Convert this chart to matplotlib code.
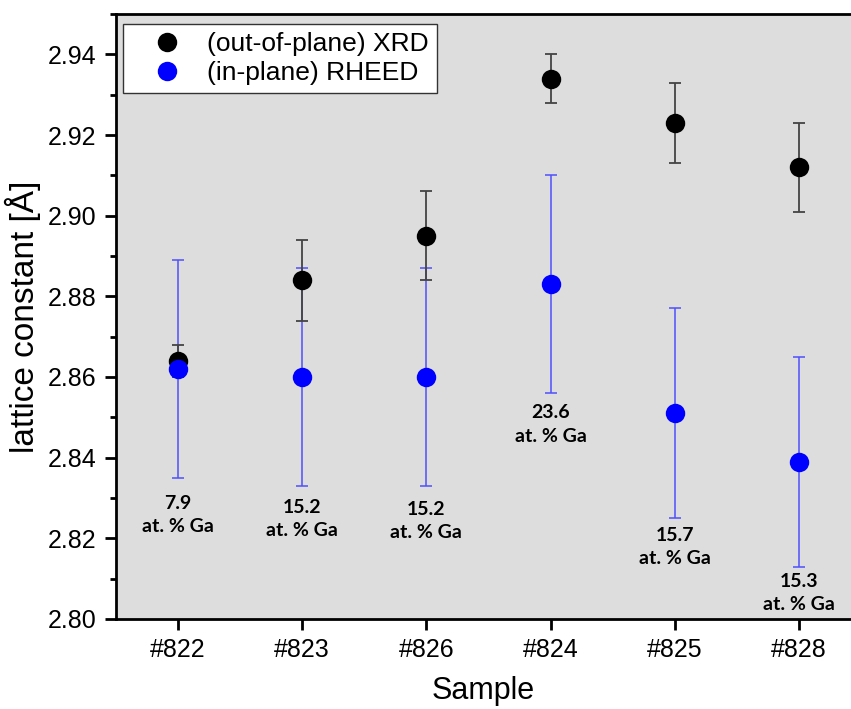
import numpy as np
import matplotlib.pyplot as plt

# ----------------------------
# data
# ----------------------------
samples = ["#822", "#823", "#826", "#824", "#825", "#828"]
xrd = [2.864, 2.884, 2.895, 2.934, 2.923, 2.912]
xrd_err = [0.004, 0.010, 0.011, 0.006, 0.010, 0.011]
rheed = [2.862, 2.860, 2.860, 2.883, 2.851, 2.839]
rheed_err = [0.027, 0.027, 0.027, 0.027, 0.026, 0.026]
ga_content = ["7.9", "15.2", "15.2", "23.6", "15.7", "15.3"]
label_y = [2.8257, 2.8248, 2.8243, 2.8482, 2.8178, 2.8064]

plt.rcParams["font.family"] = ["Liberation Sans", "DejaVu Sans"]

fig = plt.figure(figsize=(8.51, 7.09), dpi=100)
ax = fig.add_axes([116 / 851, 90 / 709, 735 / 851, 605 / 709])
ax.set_facecolor("#dddddd")

x = np.arange(len(samples))

# error bars
ax.errorbar(x, rheed, yerr=rheed_err, fmt="none", ecolor="#5050ff",
            elinewidth=1.1, capsize=4.5, capthick=1.1, zorder=2)
ax.errorbar(x, xrd, yerr=xrd_err, fmt="none", ecolor="#444444",
            elinewidth=1.3, capsize=4.5, capthick=1.3, zorder=3)

# markers
ax.plot(x, xrd, "o", color="black", ms=14, mec="none", zorder=4,
        label="(out-of-plane) XRD")
ax.plot(x, rheed, "o", color="#0000ff", ms=14, mec="none", zorder=5,
        label="(in-plane) RHEED")

# Ga content notes
for xi, txt, yi in zip(x, ga_content, label_y):
    ax.text(xi, yi, f"{txt}\nat. % Ga", ha="center", va="center",
            fontsize=14, fontweight="bold", family=["Lato", "DejaVu Sans"],
            linespacing=1.45, zorder=6)

ax.set_xlim(-0.5, 5.42)
ax.set_ylim(2.80, 2.95)
ax.set_xticks(x)
ax.set_xticklabels(samples)
ax.set_yticks(np.arange(2.80, 2.941, 0.02))
ax.set_yticklabels([f"{v:.2f}" for v in np.arange(2.80, 2.941, 0.02)])
ax.set_yticks(np.arange(2.81, 2.95, 0.02), minor=True)

ax.tick_params(axis="both", which="major", labelsize=18, length=8,
               width=2, direction="out", pad=6)
ax.tick_params(axis="y", which="minor", length=4.5, width=2,
               direction="out")

for s in ["left", "bottom", "top"]:
    ax.spines[s].set_linewidth(2)
ax.spines["right"].set_visible(False)

ax.set_xlabel("Sample", fontsize=22, labelpad=10)
ax.set_ylabel("lattice constant [Å]", fontsize=24, labelpad=5)

leg = ax.legend(loc="upper left", bbox_to_anchor=(0.0095, 0.9835),
                fontsize=19, frameon=True, fancybox=False,
                handletextpad=0.2, borderpad=0.3, labelspacing=0.2,
                handlelength=2.7, borderaxespad=0)
leg.get_frame().set_edgecolor("#333333")
leg.get_frame().set_linewidth(1.0)
leg.get_frame().set_facecolor("white")
leg.get_frame().set_alpha(1)

fig.savefig("out.png", dpi=100)
